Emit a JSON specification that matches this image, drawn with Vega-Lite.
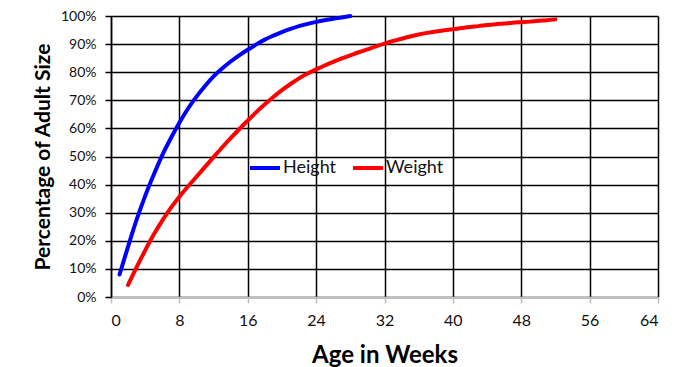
{
  "$schema": "https://vega.github.io/schema/vega-lite/v6.json",
  "width": 547,
  "height": 281,
  "autosize": {"type": "none"},
  "padding": {"left": 111, "top": 16, "right": 29, "bottom": 70},
  "background": "white",
  "config": {"view": {"stroke": null}, "font": "Lato"},
  "data": {
    "values": [
      {"series": "Height", "week": 1, "pct": 8},
      {"series": "Height", "week": 2, "pct": 18},
      {"series": "Height", "week": 3, "pct": 27.5},
      {"series": "Height", "week": 4, "pct": 36},
      {"series": "Height", "week": 5, "pct": 43.5},
      {"series": "Height", "week": 6, "pct": 50.5},
      {"series": "Height", "week": 7, "pct": 56.5},
      {"series": "Height", "week": 8, "pct": 62},
      {"series": "Height", "week": 9, "pct": 67},
      {"series": "Height", "week": 10, "pct": 71.3},
      {"series": "Height", "week": 11, "pct": 75.1},
      {"series": "Height", "week": 12, "pct": 78.5},
      {"series": "Height", "week": 13, "pct": 81.3},
      {"series": "Height", "week": 14, "pct": 83.8},
      {"series": "Height", "week": 15, "pct": 86},
      {"series": "Height", "week": 16, "pct": 88},
      {"series": "Height", "week": 17, "pct": 89.9},
      {"series": "Height", "week": 18, "pct": 91.6},
      {"series": "Height", "week": 19, "pct": 93},
      {"series": "Height", "week": 20, "pct": 94.3},
      {"series": "Height", "week": 21, "pct": 95.4},
      {"series": "Height", "week": 22, "pct": 96.4},
      {"series": "Height", "week": 23, "pct": 97.2},
      {"series": "Height", "week": 24, "pct": 97.9},
      {"series": "Height", "week": 25, "pct": 98.5},
      {"series": "Height", "week": 26, "pct": 99},
      {"series": "Height", "week": 27, "pct": 99.5},
      {"series": "Height", "week": 28, "pct": 100},
      {"series": "Weight", "week": 2, "pct": 4.3},
      {"series": "Weight", "week": 3, "pct": 10.6},
      {"series": "Weight", "week": 4, "pct": 16.6},
      {"series": "Weight", "week": 5, "pct": 22.2},
      {"series": "Weight", "week": 6, "pct": 27.2},
      {"series": "Weight", "week": 7, "pct": 31.7},
      {"series": "Weight", "week": 8, "pct": 35.7},
      {"series": "Weight", "week": 9, "pct": 39.3},
      {"series": "Weight", "week": 10, "pct": 42.8},
      {"series": "Weight", "week": 11, "pct": 46.3},
      {"series": "Weight", "week": 12, "pct": 49.8},
      {"series": "Weight", "week": 13, "pct": 53.2},
      {"series": "Weight", "week": 14, "pct": 56.5},
      {"series": "Weight", "week": 15, "pct": 59.7},
      {"series": "Weight", "week": 16, "pct": 62.8},
      {"series": "Weight", "week": 17, "pct": 65.8},
      {"series": "Weight", "week": 18, "pct": 68.6},
      {"series": "Weight", "week": 19, "pct": 71.2},
      {"series": "Weight", "week": 20, "pct": 73.6},
      {"series": "Weight", "week": 21, "pct": 75.8},
      {"series": "Weight", "week": 22, "pct": 77.8},
      {"series": "Weight", "week": 23, "pct": 79.5},
      {"series": "Weight", "week": 24, "pct": 81},
      {"series": "Weight", "week": 25, "pct": 82.4},
      {"series": "Weight", "week": 26, "pct": 83.7},
      {"series": "Weight", "week": 27, "pct": 84.9},
      {"series": "Weight", "week": 28, "pct": 86},
      {"series": "Weight", "week": 29, "pct": 87.1},
      {"series": "Weight", "week": 30, "pct": 88.1},
      {"series": "Weight", "week": 31, "pct": 89.2},
      {"series": "Weight", "week": 32, "pct": 90.2},
      {"series": "Weight", "week": 33, "pct": 91.1},
      {"series": "Weight", "week": 34, "pct": 91.9},
      {"series": "Weight", "week": 35, "pct": 92.7},
      {"series": "Weight", "week": 36, "pct": 93.4},
      {"series": "Weight", "week": 37, "pct": 94},
      {"series": "Weight", "week": 38, "pct": 94.5},
      {"series": "Weight", "week": 39, "pct": 94.9},
      {"series": "Weight", "week": 40, "pct": 95.3},
      {"series": "Weight", "week": 41, "pct": 95.7},
      {"series": "Weight", "week": 42, "pct": 96.1},
      {"series": "Weight", "week": 43, "pct": 96.4},
      {"series": "Weight", "week": 44, "pct": 96.8},
      {"series": "Weight", "week": 45, "pct": 97.1},
      {"series": "Weight", "week": 46, "pct": 97.3},
      {"series": "Weight", "week": 47, "pct": 97.6},
      {"series": "Weight", "week": 48, "pct": 97.8},
      {"series": "Weight", "week": 49, "pct": 98},
      {"series": "Weight", "week": 50, "pct": 98.3},
      {"series": "Weight", "week": 51, "pct": 98.5},
      {"series": "Weight", "week": 52, "pct": 98.8}
    ]
  },
  "mark": {"type": "line", "strokeWidth": 4, "strokeCap": "round", "interpolate": "monotone"},
  "encoding": {
    "x": {
      "field": "week",
      "type": "quantitative",
      "scale": {"domain": [0, 64], "nice": false},
      "axis": {
        "values": [0, 8, 16, 24, 32, 40, 48, 56, 64],
        "grid": true,
        "gridColor": "#000000",
        "gridWidth": 1.5,
        "gridOpacity": 1,
        "domainColor": "#bfbfbf",
        "domainWidth": 1.5,
        "tickColor": "#bfbfbf",
        "tickWidth": 1.5,
        "tickSize": 6,
        "labelFontSize": 16,
        "labelColor": "#111111",
        "labelPadding": 9,
        "title": "Age in Weeks",
        "titleFontSize": 24,
        "titleFontWeight": "bold",
        "titleColor": "#000000",
        "titleY": 65,
        "titleBaseline": "alphabetic"
      }
    },
    "y": {
      "field": "pct",
      "type": "quantitative",
      "scale": {"domain": [0, 100], "nice": false},
      "axis": {
        "values": [0, 10, 20, 30, 40, 50, 60, 70, 80, 90, 100],
        "labelExpr": "datum.value + '%'",
        "grid": true,
        "gridColor": "#000000",
        "gridWidth": 1.5,
        "gridOpacity": 1,
        "domainColor": "#000000",
        "domainWidth": 1.5,
        "tickColor": "#000000",
        "tickWidth": 1.5,
        "tickSize": 6,
        "labelFontSize": 14,
        "labelColor": "#111111",
        "labelPadding": 9,
        "title": "Percentage of Adult Size",
        "titleFontSize": 21,
        "titleFontWeight": "bold",
        "titleColor": "#000000",
        "titleX": -68,
        "titleAlign": "center",
        "titleBaseline": "middle"
      }
    },
    "color": {
      "field": "series",
      "type": "nominal",
      "scale": {"domain": ["Height", "Weight"], "range": ["#0000ff", "#ff0000"]},
      "legend": {
        "title": null,
        "orient": "none",
        "legendX": 137,
        "legendY": 135,
        "direction": "horizontal",
        "symbolType": "stroke",
        "symbolSize": 900,
        "symbolStrokeWidth": 4,
        "labelFontSize": 18,
        "labelColor": "#111111",
        "labelOffset": 1,
        "columnPadding": 8
      }
    }
  }
}
